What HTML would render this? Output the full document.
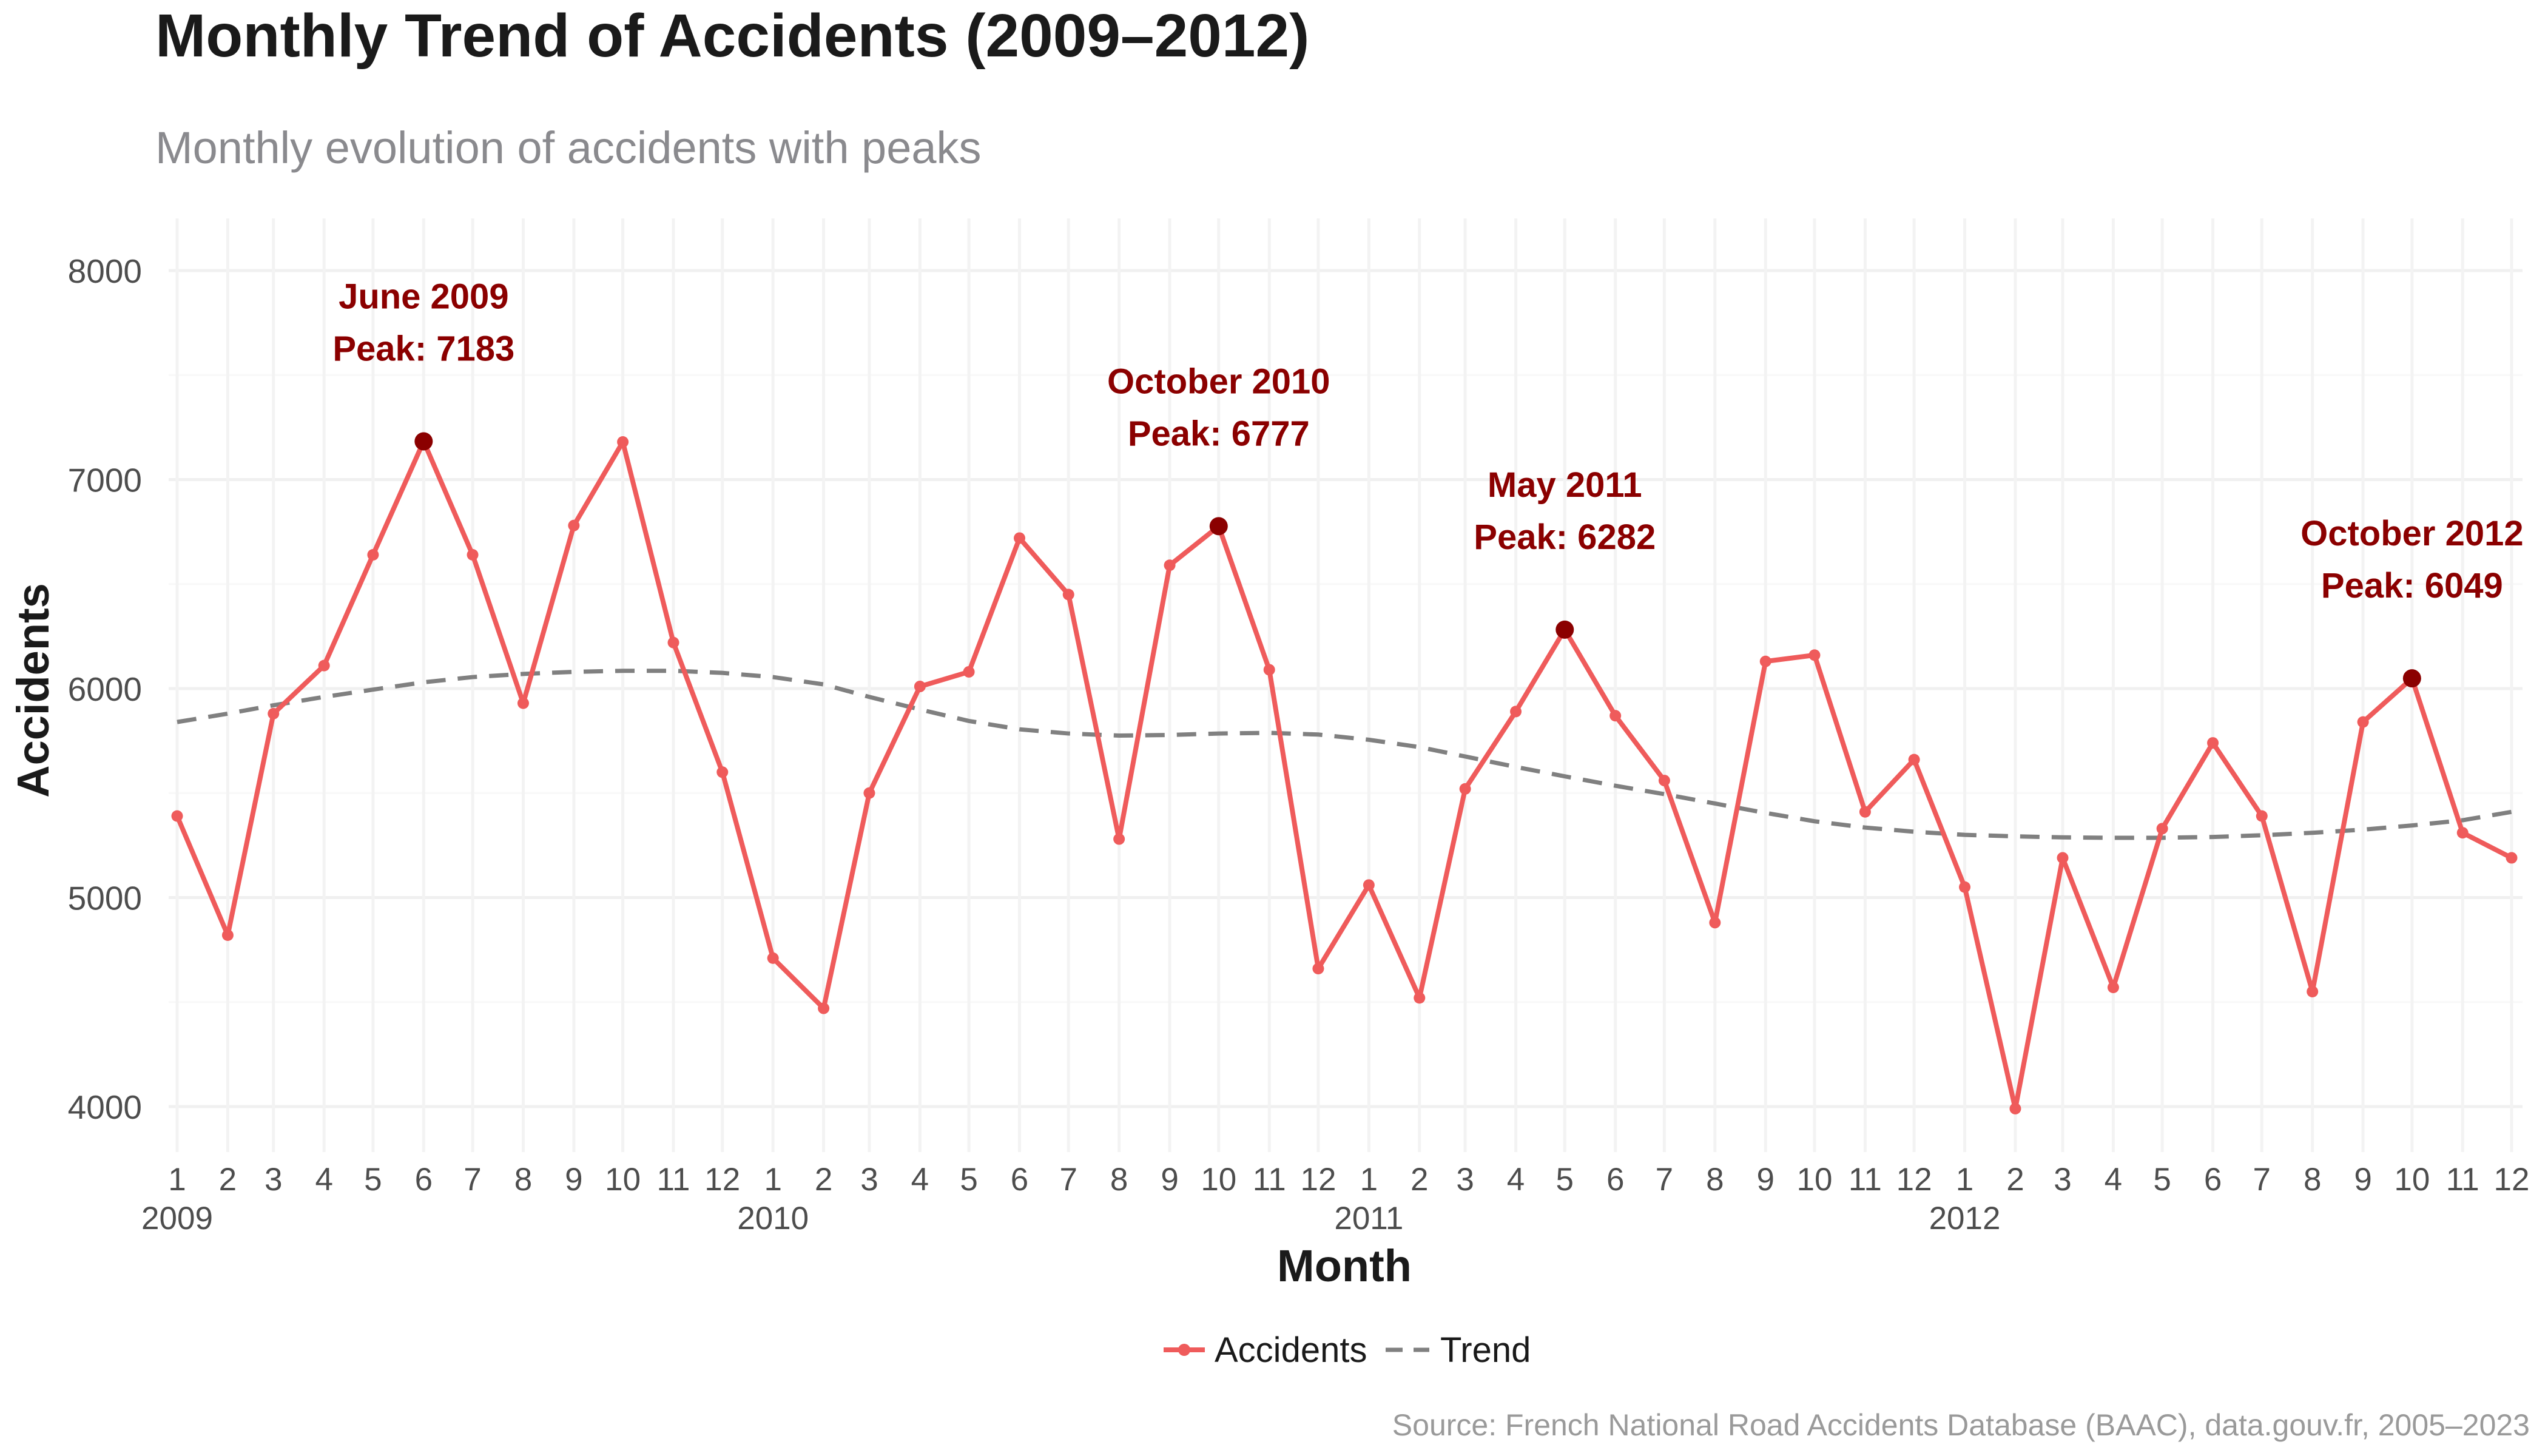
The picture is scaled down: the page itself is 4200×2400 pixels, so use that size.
<!DOCTYPE html>
<html><head><meta charset="utf-8">
<style>
html,body{margin:0;padding:0;background:#fff;}
svg{display:block;font-family:"Liberation Sans",Arial,sans-serif;}
</style></head>
<body>
<svg id="chart" width="4200" height="2400" viewBox="0 0 4200 2400" xmlns="http://www.w3.org/2000/svg">
  <text x="256" y="93" font-size="100" font-weight="bold" fill="#1a1a1a">Monthly Trend of Accidents (2009–2012)</text>
  <text x="256" y="269" font-size="74" fill="#8a8a8e">Monthly evolution of accidents with peaks</text>
  <g id="grid"></g>
  <g id="yticks"></g>
  <g id="xticks"></g>
  <g id="series"></g>
  <g id="annots"></g>
  <text transform="translate(80,1138) rotate(-90)" text-anchor="middle" font-size="74" font-weight="bold" fill="#1a1a1a">Accidents</text>
  <text x="2216" y="2112" text-anchor="middle" font-size="74" font-weight="bold" fill="#1a1a1a">Month</text>
  <g>
    <g>
      <line x1="1918" y1="2225" x2="1986" y2="2225" stroke="#ef5b5b" stroke-width="8"/>
      <circle cx="1952" cy="2225" r="10" fill="#ef5b5b"/>
      <text x="2002" y="2245" font-size="58" fill="#1a1a1a">Accidents</text>
    </g>
    <g>
      <line x1="2284" y1="2225" x2="2356" y2="2225" stroke="#808080" stroke-width="7" stroke-dasharray="28,18"/>
      <text x="2374" y="2245" font-size="58" fill="#1a1a1a">Trend</text>
    </g>
  </g>
  <text x="4170" y="2366" text-anchor="end" font-size="50" fill="#9a9a9a">Source: French National Road Accidents Database (BAAC), data.gouv.fr, 2005–2023</text>
</svg>
<script>
const years = [2009, 2010, 2011, 2012];
const months = [1,2,3,4,5,6,7,8,9,10,11,12];
const accidents = [
  5390, 4820, 5880, 6110, 6640, 7183, 6640, 5930, 6780, 7180, 6220, 5600,
  4710, 4470, 5500, 6010, 6080, 6720, 6450, 5280, 6590, 6777, 6090, 4660,
  5060, 4520, 5520, 5890, 6282, 5870, 5560, 4880, 6130, 6160, 5410, 5660,
  5050, 3990, 5190, 4570, 5330, 5740, 5390, 4550, 5840, 6049, 5310, 5190
];
const trend = [
  5840, 5880, 5920, 5960, 5995, 6030, 6055, 6070, 6080, 6085, 6085, 6075,
  6055, 6020, 5960, 5900, 5845, 5805, 5785, 5775, 5778, 5785, 5788, 5780,
  5755, 5720, 5675, 5625, 5580, 5535, 5495, 5450, 5405, 5365, 5335, 5315,
  5300, 5293, 5288, 5286, 5286, 5290, 5298, 5310, 5325, 5345, 5370, 5410
];
const peakIdx = [5, 21, 28, 45];
const peakLabels = ["June 2009", "October 2010", "May 2011", "October 2012"];
const yTicks = [4000, 5000, 6000, 7000, 8000];
const yMinor = [3500, 4500, 5500, 6500, 7500];

const NS = "http://www.w3.org/2000/svg";
const t0 = Date.UTC(2009,0,1), t1 = Date.UTC(2012,11,1);
const X0 = 292, X1 = 4140, Y8 = 446, Y4 = 1824;
function dateOf(i){ return Date.UTC(years[Math.floor(i/12)], i%12, 1); }
function xs(i){ return X0 + (dateOf(i)-t0)/(t1-t0)*(X1-X0); }
function ys(v){ return Y4 + (v-4000)/(8000-4000)*(Y8-Y4); }
function mk(tag, attrs, parent){
  const e = document.createElementNS(NS, tag);
  for (const k in attrs) e.setAttribute(k, attrs[k]);
  parent.appendChild(e); return e;
}
const grid = document.getElementById('grid');
const PT = 360, PB = 1899, PL = 278, PR = 4158;
yMinor.forEach(v => {
  const y = ys(v); if (y < PT || y > PB) return;
  const l = mk('line', {x1:PL, x2:PR, y1:y, y2:y, stroke:'#f8f8f8', 'stroke-width':3}, grid);
  
  
});
yTicks.forEach(v => {
  const y = ys(v);
  const l = mk('line', {x1:PL, x2:PR, y1:y, y2:y, stroke:'#f0f0f0', 'stroke-width':5}, grid);
  
  
  const t = mk('text', {x:234, y:y+20, 'text-anchor':'end', 'font-size':55, fill:'#4d4d4d'}, document.getElementById('yticks'));
  t.textContent = v;
  
  
});
const xt = document.getElementById('xticks');
accidents.forEach((v, i) => {
  const x = xs(i);
  const l = mk('line', {x1:x, x2:x, y1:PT, y2:PB, stroke:'#f3f3f3', 'stroke-width':5}, grid);
  
  
  const t = mk('text', {x:x, y:1962, 'text-anchor':'middle', 'font-size':53, fill:'#4d4d4d'}, xt);
  t.textContent = months[i%12];
  
  
  if (i%12 === 0) {
    const yt = mk('text', {x:x, y:2026, 'text-anchor':'middle', 'font-size':53, fill:'#4d4d4d'}, xt);
    yt.textContent = years[i/12];
    
    
  }
});
const series = document.getElementById('series');
const tp = mk('polyline', {points: trend.map((v,i)=>xs(i)+','+ys(v)).join(' '), fill:'none', stroke:'#808080', 'stroke-width':7, 'stroke-dasharray':'32,20'}, series);


const ap = mk('polyline', {points: accidents.map((v,i)=>xs(i)+','+ys(v)).join(' '), fill:'none', stroke:'#ef5b5b', 'stroke-width':8, 'stroke-linejoin':'round'}, series);


accidents.forEach((v, i) => {
  const c = mk('circle', {cx:xs(i), cy:ys(v), r:9.5, fill:'#ef5b5b'}, series);
  
  
});
const an = document.getElementById('annots');
peakIdx.forEach((i, k) => {
  const x = xs(i), y = ys(accidents[i]);
  const c = mk('circle', {cx:x, cy:y, r:15, fill:'#8b0000'}, an);
  
  
  const t1e = mk('text', {x:x, y:y-219, 'text-anchor':'middle', 'font-size':58, 'font-weight':'bold', fill:'#8b0000'}, an);
  t1e.textContent = peakLabels[k];
  
  
  const t2e = mk('text', {x:x, y:y-133, 'text-anchor':'middle', 'font-size':58, 'font-weight':'bold', fill:'#8b0000'}, an);
  t2e.textContent = 'Peak: ' + accidents[i];
  
  
});
</script>
</body></html>
